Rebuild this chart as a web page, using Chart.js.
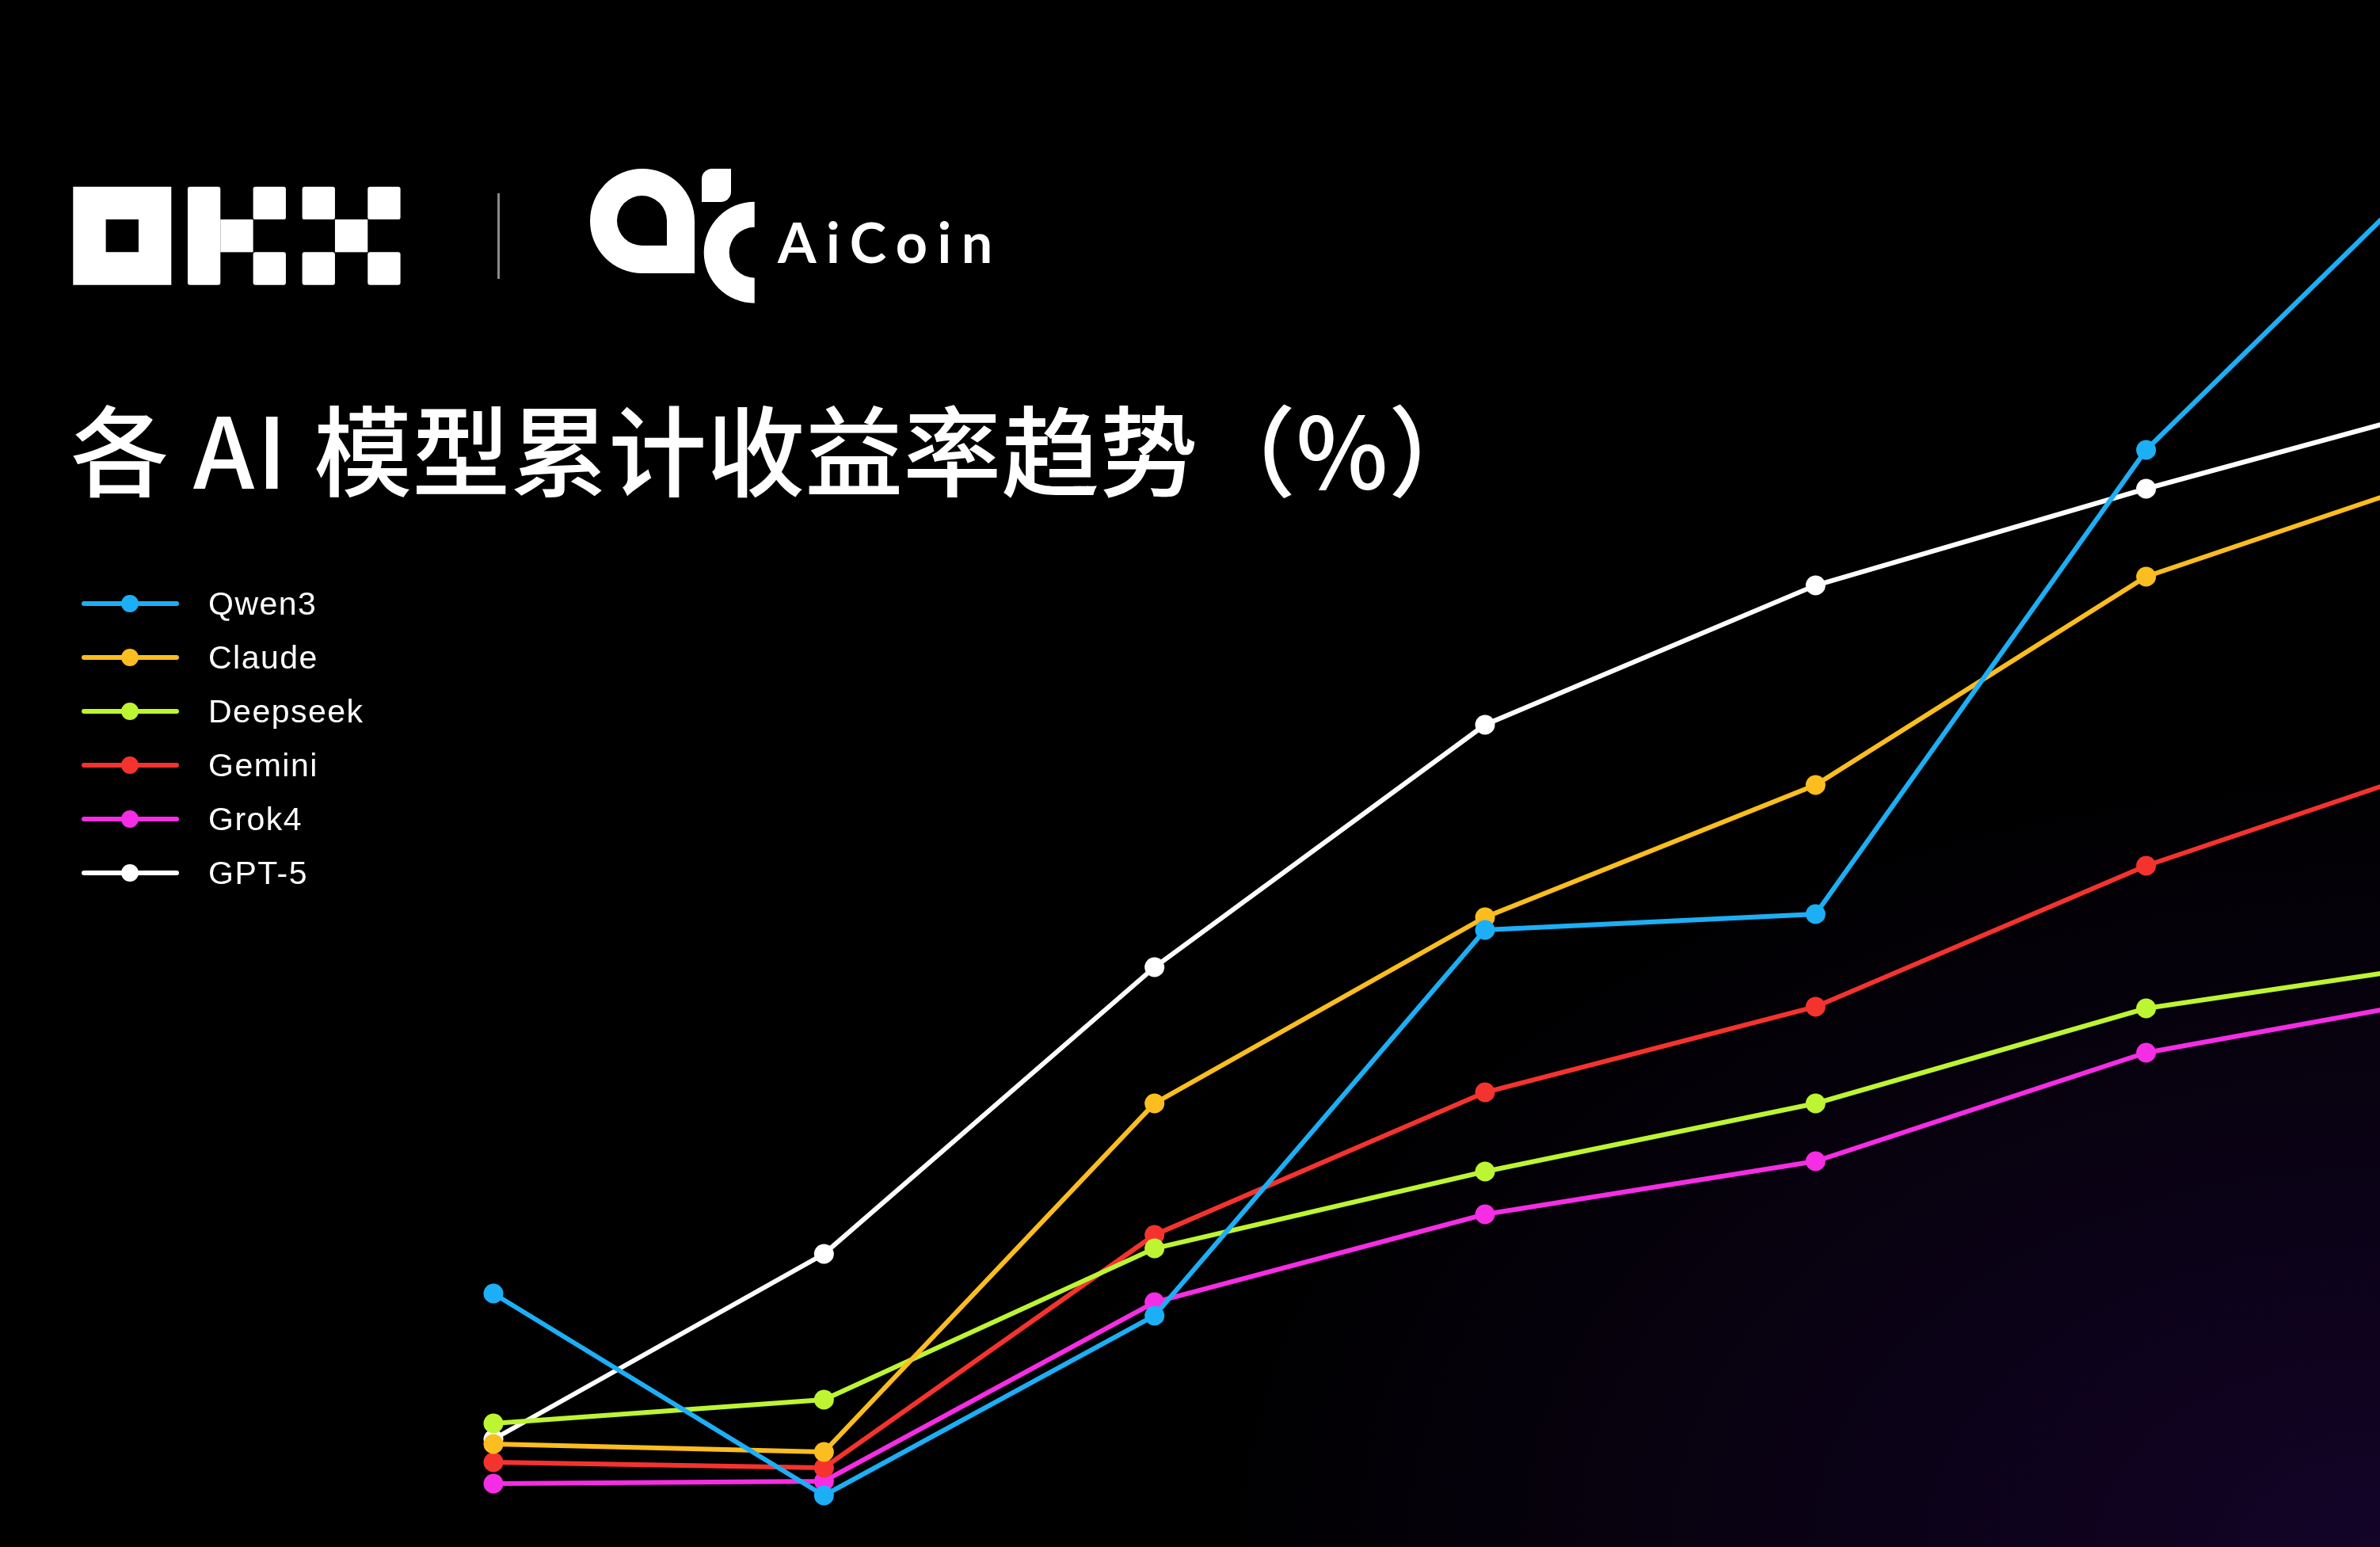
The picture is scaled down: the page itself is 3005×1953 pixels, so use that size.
<!DOCTYPE html>
<html>
<head>
<meta charset="utf-8">
<script src="https://cdn.jsdelivr.net/npm/chart.js@4"></script>
<style>
  html, body {
    margin: 0;
    width: 3005px;
    height: 1953px;
    overflow: hidden;
    background: #000;
  }
  #page {
    position: relative;
    width: 3005px;
    height: 1953px;
    overflow: hidden;
    background:
      radial-gradient(ellipse 1500px 1000px at 3005px 1953px, rgba(20, 4, 42, 0.95), rgba(0, 0, 0, 0) 100%),
      #000;
  }
  #chart {
    position: absolute;
    left: 0;
    top: 0;
  }
  #logos {
    position: absolute;
    left: 0;
    top: 0;
  }
  .aicoin-text {
    position: absolute;
    left: 982px;
    top: 270px;
    font-family: Lato, sans-serif;
    font-weight: 700;
    font-size: 70px;
    line-height: 70px;
    letter-spacing: 12.5px;
    color: #fff;
  }
  .title {
    position: absolute;
    left: 89px;
    top: 501px;
    font-family: "Noto Sans CJK SC", sans-serif;
    font-weight: 500;
    font-size: 124px;
    line-height: 124px;
    color: #fff;
    white-space: nowrap;
  }
  .title .latin {
    letter-spacing: 3px;
    margin: 0 3px;
  }
  #legend {
    position: absolute;
    left: 103px;
    top: 728px;
  }
  .item {
    display: flex;
    align-items: center;
    height: 68px;
  }
  .swatch {
    position: relative;
    width: 123px;
    height: 6px;
    border-radius: 3px;
  }
  .swatch i {
    position: absolute;
    left: 50px;
    top: -8px;
    width: 22px;
    height: 22px;
    border-radius: 50%;
  }
  .item span {
    margin-left: 37px;
    font-family: "Liberation Sans", Arial, sans-serif;
    font-size: 41px;
    line-height: 41px;
    letter-spacing: 1.5px;
    color: #fff;
  }
</style>
</head>
<body>
<div id="page">
  <canvas id="chart" width="3200" height="1953"></canvas>

  <svg id="logos" width="1300" height="420" viewBox="0 0 1300 420">
    <g fill="#fff" transform="translate(92.3 235.7) scale(41.33)">
      <path fill-rule="evenodd" d="M0 0H3V3H0Z M1 1V2H2V1Z"/>
      <rect x="3.5" y="0" width="1" height="3" rx="0.07"/>
      <rect x="4.5" y="1" width="1" height="1"/>
      <rect x="5.5" y="0" width="1" height="1" rx="0.07"/>
      <rect x="5.5" y="2" width="1" height="1" rx="0.07"/>
      <rect x="7" y="0" width="1" height="1" rx="0.07"/>
      <rect x="7" y="2" width="1" height="1" rx="0.07"/>
      <rect x="8" y="1" width="1" height="1"/>
      <rect x="9" y="0" width="1" height="1" rx="0.07"/>
      <rect x="9" y="2" width="1" height="1" rx="0.07"/>
    </g>
    <rect x="628" y="244" width="3" height="108" fill="#8a8a8a"/>
    <g fill="#fff">
      <path fill-rule="evenodd" d="M877 345 L811 345 A66 66 0 0 1 745 279 A66 66 0 0 1 811 213 A66 66 0 0 1 877 279 Z
        M842 310 L810.5 310 A31.5 31.5 0 0 1 779 278.5 A31.5 31.5 0 0 1 810.5 247 A31.5 31.5 0 0 1 842 278.5 Z"/>
      <path d="M899 213 L923 213 L923 242 A13 13 0 0 1 910 255 L886 255 L886 226 A13 13 0 0 1 899 213 Z"/>
      <path d="M952.7 254.7 A64 64 0 0 0 952.7 382.7 L952.7 350.7 A32 32 0 0 1 952.7 286.7 Z"/>
    </g>
  </svg>
  <div class="aicoin-text">AiCoin</div>

  <div class="title">各 <span class="latin">AI</span> 模型累计收益率趋势（%）</div>

  <div id="legend"></div>
</div>

<script>
const categories = ['D1', 'D2', 'D3', 'D4', 'D5', 'D6', 'D7'];
const names = ['Qwen3', 'Claude', 'Deepseek', 'Gemini', 'Grok4', 'GPT-5'];
const colors = ['#1caff6', '#fbbd1f', '#bdf532', '#f5332e', '#f52de4', '#ffffff'];

const qwen3 = [26.7, 1.2, 23.9, 72.6, 74.6, 133.2, 174.1];
const claude = [7.7, 6.7, 50.7, 74.2, 90.9, 117.2, 131.3];
const deepseek = [10.3, 13.3, 32.4, 42.1, 50.7, 62.7, 68.9];
const gemini = [5.4, 4.7, 34.1, 52.1, 62.9, 80.7, 94.8];
const grok4 = [2.7, 3.0, 25.6, 36.7, 43.4, 57.1, 64.7];
const gpt5 = [8.3, 31.7, 67.9, 98.5, 116.1, 128.3, 139.7];

const series = [qwen3, claude, deepseek, gemini, grok4, gpt5];

// legend on the left, built from the same names/colours
const legend = document.getElementById('legend');
names.forEach((name, i) => {
    const item = document.createElement('div');
    item.classList.add('item');
    const swatch = document.createElement('div');
    swatch.classList.add('swatch');
    swatch.style.background = colors[i];
    const dot = document.createElement('i');
    dot.style.background = colors[i];
    swatch.append(dot);
    const label = document.createElement('span');
    label.textContent = name;
    item.append(swatch, label);
    legend.append(item);
});

const datasets = series.map((data, i) => ({
    label: names[i],
    data: data,
    borderColor: colors[i],
    backgroundColor: colors[i],
    borderWidth: 6,
    pointRadius: 12.5,
    pointBorderWidth: 0,
    pointBackgroundColor: colors[i],
    tension: 0,
    clip: false
}));

const ctx = document.getElementById('chart').getContext('2d');
// eslint-disable-next-line no-undef
new Chart(ctx, {
    type: 'line',
    data: {
        labels: categories,
        datasets: datasets
    },
    options: {
        responsive: false,
        devicePixelRatio: 1,
        animation: false,
        layout: {
            autoPadding: false,
            padding: { left: 623, right: 73, top: 0, bottom: 0 }
        },
        plugins: {
            legend: { display: false },
            tooltip: { enabled: false }
        },
        scales: {
            x: {
                display: false,
                offset: false
            },
            y: {
                display: false,
                min: -5.3,
                max: 190
            }
        }
    }
});
</script>
</body>
</html>
